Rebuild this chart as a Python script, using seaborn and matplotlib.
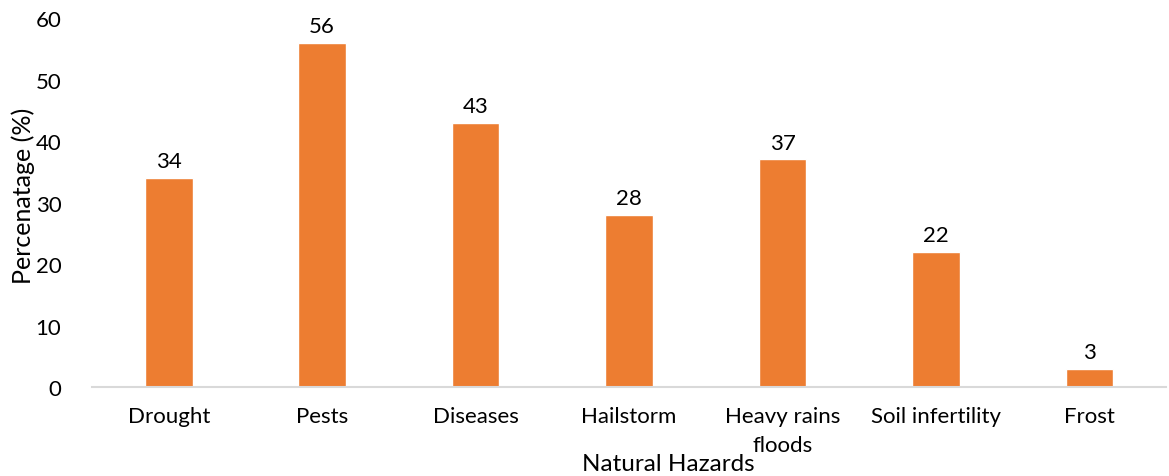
import matplotlib
matplotlib.use("Agg")
import matplotlib.pyplot as plt
import seaborn as sns
import pandas as pd

hazards = ["Drought", "Pests", "Diseases", "Hailstorm", "Heavy rains\nfloods",
           "Soil infertility", "Frost"]
percentages = [34, 56, 43, 28, 37, 22, 3]
y_ticks = [0, 10, 20, 30, 40, 50, 60]

sns.set_theme(style="white")
plt.rcParams["font.family"] = ["Lato", "DejaVu Sans"]

df = pd.DataFrame({"hazard": hazards, "pct": percentages})

fig = plt.figure(figsize=(11.69, 4.77), dpi=100)
ax = fig.add_axes([0.0787, 0.1866, 0.9188, 0.7734])

sns.barplot(data=df, x="hazard", y="pct", color="#ED7D31", saturation=1,
            width=0.31, ax=ax)

for cont in ax.containers:
    ax.bar_label(cont, labels=[str(v) for v in percentages], padding=5,
                 fontsize=16, color="#000000")

ax.set_ylim(0, 60)
ax.set_yticks(y_ticks)
ax.set_xlim(-0.5, len(hazards) - 0.5)
ax.tick_params(axis="both", length=0, labelsize=16, colors="#000000")
ax.tick_params(axis="y", pad=22)
ax.tick_params(axis="x", pad=14)
for lbl in ax.get_xticklabels():
    lbl.set_linespacing(1.55)

for side in ["top", "right", "left"]:
    ax.spines[side].set_visible(False)
ax.spines["bottom"].set_color("#d9d9d9")
ax.spines["bottom"].set_linewidth(1.5)

ax.set_xlabel("Natural Hazards", fontsize=17.5, color="#000000")
ax.xaxis.set_label_coords((668 - 92) / 1074, -0.18)
ax.set_ylabel("Percenatage (%)", fontsize=18, color="#000000")
ax.yaxis.set_label_coords(-0.053, 0.52)

fig.savefig("out.png", dpi=100, facecolor="white")
